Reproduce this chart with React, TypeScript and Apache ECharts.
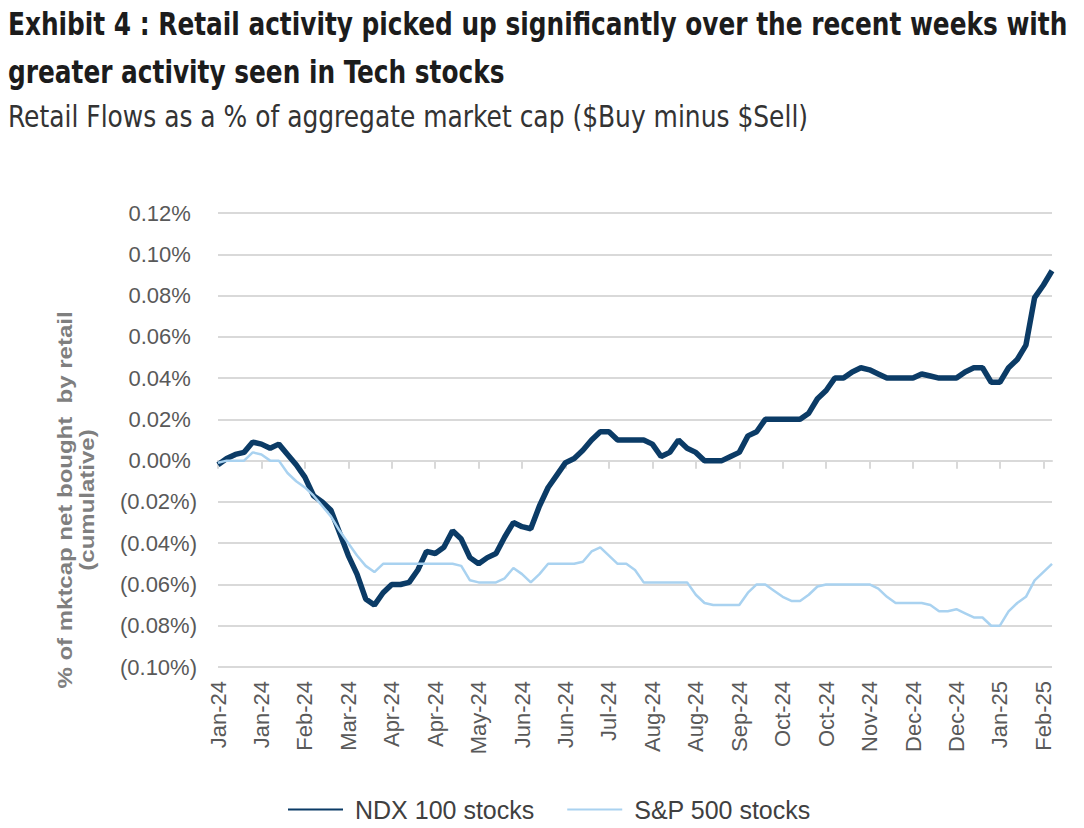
import React, { useEffect, useRef } from "react";
import * as echarts from "echarts";

const tickLabels = [
  "Jan-24", "Jan-24", "Feb-24", "Mar-24", "Apr-24", "Apr-24", "May-24", "Jun-24", "Jun-24", "Jul-24",
  "Aug-24", "Aug-24", "Sep-24", "Oct-24", "Oct-24", "Nov-24", "Dec-24", "Dec-24", "Jan-25", "Feb-25",
];

const pointsPerTick = 5;

// cumulative retail flows, % of market cap
const ndxValues = [
  -0.002, 0.001, 0.003, 0.004, 0.009, 0.008, 0.006, 0.008, 0.003, -0.002,
  -0.008, -0.017, -0.020, -0.024, -0.035, -0.046, -0.055, -0.067, -0.070, -0.064,
  -0.060, -0.060, -0.059, -0.053, -0.044, -0.045, -0.042, -0.034, -0.038, -0.047,
  -0.050, -0.047, -0.045, -0.037, -0.030, -0.032, -0.033, -0.022, -0.013, -0.007,
  -0.001, 0.001, 0.005, 0.010, 0.014, 0.014, 0.010, 0.010, 0.010, 0.010,
  0.008, 0.002, 0.004, 0.010, 0.006, 0.004, 0.000, 0.000, 0.000, 0.002,
  0.004, 0.012, 0.014, 0.020, 0.020, 0.020, 0.020, 0.020, 0.023, 0.030,
  0.034, 0.040, 0.040, 0.043, 0.045, 0.044, 0.042, 0.040, 0.040, 0.040,
  0.040, 0.042, 0.041, 0.040, 0.040, 0.040, 0.043, 0.045, 0.045, 0.038,
  0.038, 0.045, 0.049, 0.056, 0.079, 0.085, 0.092,
];

const spxValues = [
  -0.001, 0.000, 0.000, 0.000, 0.004, 0.003, 0.000, 0.000, -0.006, -0.010,
  -0.013, -0.017, -0.022, -0.027, -0.034, -0.040, -0.046, -0.051, -0.054, -0.050,
  -0.050, -0.050, -0.050, -0.050, -0.050, -0.050, -0.050, -0.050, -0.051, -0.058,
  -0.059, -0.059, -0.059, -0.057, -0.052, -0.055, -0.059, -0.055, -0.050, -0.050,
  -0.050, -0.050, -0.049, -0.044, -0.042, -0.046, -0.050, -0.050, -0.053, -0.059,
  -0.059, -0.059, -0.059, -0.059, -0.059, -0.065, -0.069, -0.070, -0.070, -0.070,
  -0.070, -0.064, -0.060, -0.060, -0.063, -0.066, -0.068, -0.068, -0.065, -0.061,
  -0.060, -0.060, -0.060, -0.060, -0.060, -0.060, -0.062, -0.066, -0.069, -0.069,
  -0.069, -0.069, -0.070, -0.073, -0.073, -0.072, -0.074, -0.076, -0.076, -0.080,
  -0.080, -0.073, -0.069, -0.066, -0.058, -0.054, -0.050,
];

const categories = ndxValues.map((_, i) => `p${i}`);

const seriesNames = ["NDX 100 stocks", "S&P 500 stocks"];

const titleText =
  "Exhibit 4 : Retail activity picked up significantly over the recent weeks with\ngreater activity seen in Tech stocks";
const subtitleText = "Retail Flows as a % of aggregate market cap ($Buy minus $Sell)";
const yName = "% of mktcap net bought  by retail\n(cumulative)";

const condensed = "'DejaVu Sans Condensed', 'DejaVu Sans', sans-serif";
const sans = "'Liberation Sans', Arial, sans-serif";

function fmtPct(v: number): string {
  const r = Math.round(v * 1000) / 1000;
  if (r < 0) return `(${Math.abs(r).toFixed(2)}%)`;
  return `${r.toFixed(2)}%\u00a0`;
}

export default function App() {
  const ref = useRef<HTMLDivElement>(null);

  useEffect(() => {
    if (!ref.current) return;
    const chart = echarts.init(ref.current, undefined, { renderer: "svg" });
    chart.setOption({
      animation: false,
      backgroundColor: "#ffffff",
      graphic: [
        {
          type: "text",
          x: 8,
          y: 0,
          scaleX: 0.862,
          style: {
            text: titleText,
            fontFamily: condensed,
            fontSize: 32,
            fontWeight: "bold",
            lineHeight: 48,
            fill: "#1c1c1c",
            align: "left",
            verticalAlign: "top",
          },
        },
        {
          type: "text",
          x: 8,
          y: 100,
          scaleX: 0.925,
          style: {
            text: subtitleText,
            fontFamily: condensed,
            fontSize: 30,
            fontWeight: "normal",
            lineHeight: 34,
            fill: "#333333",
            align: "left",
            verticalAlign: "top",
          },
        },
        {
          type: "text",
          x: 76,
          y: 500,
          rotation: Math.PI / 2,
          scaleX: 1.2,
          style: {
            text: yName,
            fontFamily: sans,
            fontSize: 20,
            fontWeight: "bold",
            fill: "#7f7f7f",
            align: "center",
            verticalAlign: "middle",
            lineHeight: 22,
          },
        },
      ],
      legend: {
        data: seriesNames,
        left: 282,
        top: 792,
        itemWidth: 55,
        itemHeight: 14,
        itemGap: 32,
        itemStyle: { opacity: 0 },
        textStyle: { fontFamily: sans, fontSize: 25, color: "#404040", padding: [0, 0, 0, 7] },
      },
      grid: { left: 218, right: 32, top: 213, bottom: 161, containLabel: false },
      xAxis: [
        {
          type: "category",
          data: categories,
          boundaryGap: false,
          position: "bottom",
          axisLine: { show: false, onZero: false },
          axisTick: { show: false },
          splitLine: { show: false },
          axisLabel: {
            interval: pointsPerTick - 1,
            rotate: 90,
            margin: 14,
            fontFamily: sans,
            fontSize: 22,
            color: "#595959",
            formatter: (_v: string, i: number) =>
              i % pointsPerTick === 0 ? tickLabels[i / pointsPerTick] ?? "" : "",
          },
        },
        {
          type: "category",
          data: categories,
          boundaryGap: false,
          position: "top",
          axisLine: { show: true, onZero: true, lineStyle: { color: "#d9d9d9", width: 2 } },
          axisTick: {
            show: true,
            interval: pointsPerTick - 1,
            inside: true,
            length: 8,
            lineStyle: { color: "#d9d9d9", width: 2 },
          },
          axisLabel: { show: false },
          splitLine: { show: false },
        },
      ],
      yAxis: {
        type: "value",
        min: -0.1,
        max: 0.12,
        interval: 0.02,
        axisLine: { show: false },
        axisTick: { show: false },
        splitLine: { lineStyle: { color: "#d9d9d9", width: 2 } },
        axisLabel: {
          formatter: fmtPct,
          fontFamily: sans,
          fontSize: 22,
          color: "#595959",
          margin: 21,
        },
      },
      series: [
        {
          name: seriesNames[0],
          type: "line",
          data: ndxValues,
          xAxisIndex: 0,
          showSymbol: false,
          symbol: "none",
          lineStyle: { color: "#0b3b66", width: 5.5 },
          itemStyle: { color: "#0b3b66" },
        },
        {
          name: seriesNames[1],
          type: "line",
          data: spxValues,
          xAxisIndex: 0,
          showSymbol: false,
          symbol: "none",
          lineStyle: { color: "#a9d2f0", width: 2.5 },
          itemStyle: { color: "#a9d2f0" },
        },
      ],
    });
    return () => chart.dispose();
  }, []);

  return (
    <div
      ref={ref}
      style={{ position: "absolute", left: 0, top: 0, width: 1084, height: 828 }}
    />
  );
}
